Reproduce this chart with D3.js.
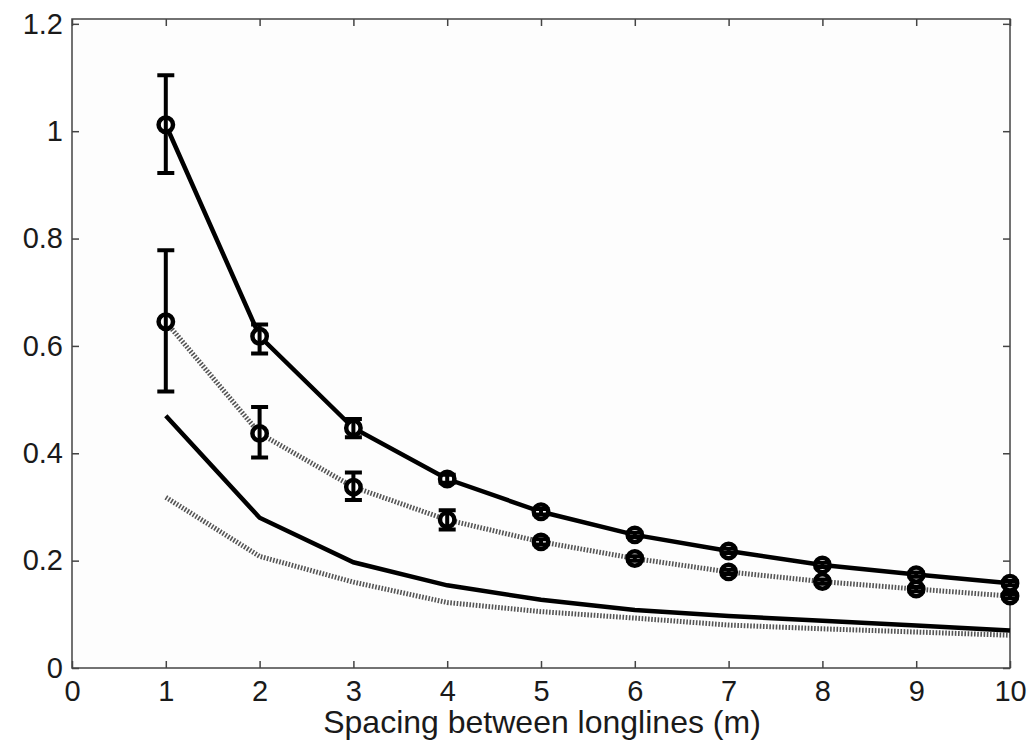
<!DOCTYPE html>
<html>
<head>
<meta charset="utf-8">
<script src="https://cdn.jsdelivr.net/npm/d3@7"></script>
<style>
  body { margin: 0; background: #fff; }
  text { font-family: Arial, "Liberation Sans", sans-serif; fill: #1a1a1a; }
</style>
</head>
<body>
<div id="chart"></div>
<script>
// spacing between longlines (m)
const spacing = [1, 2, 3, 4, 5, 6, 7, 8, 9, 10];

// upper series: solid line, circle markers with error bars
const solidMean = [1.012, 0.618, 0.447, 0.352, 0.291, 0.248, 0.218, 0.192, 0.174, 0.158];
const solidLo   = [0.922, 0.586, 0.430, 0.345, 0.286, 0.244, 0.214, 0.188, 0.170, 0.154];
const solidHi   = [1.104, 0.640, 0.464, 0.360, 0.296, 0.252, 0.222, 0.196, 0.178, 0.162];

// middle series: dotted line, circle markers with error bars
const dotMean = [0.645, 0.437, 0.337, 0.276, 0.235, 0.204, 0.179, 0.161, 0.147, 0.134];
const dotLo   = [0.515, 0.392, 0.313, 0.258, 0.230, 0.200, 0.175, 0.157, 0.143, 0.130];
const dotHi   = [0.778, 0.486, 0.364, 0.294, 0.240, 0.208, 0.183, 0.165, 0.151, 0.138];

// lower curves, no markers
const solidLow = [0.470, 0.280, 0.197, 0.154, 0.127, 0.108, 0.097, 0.088, 0.079, 0.070];
const dotLow   = [0.318, 0.208, 0.160, 0.122, 0.105, 0.093, 0.080, 0.073, 0.067, 0.061];

const xTicks = [0, 1, 2, 3, 4, 5, 6, 7, 8, 9, 10];
const yTicks = [0, 0.2, 0.4, 0.6, 0.8, 1, 1.2];

const W = 1032, H = 752;
const margin = { top: 19, right: 22, bottom: 84, left: 72 };
const width = W - margin.left - margin.right;
const height = H - margin.top - margin.bottom;

const svg = d3.select("#chart").append("svg")
  .attr("width", W).attr("height", H);
const g = svg.append("g").attr("transform", `translate(${margin.left},${margin.top})`);

const x = d3.scaleLinear().domain([0, 10]).range([0, width]);
const y = d3.scaleLinear().domain([0, 1.209]).range([height, 0]);

g.append("rect")
  .attr("width", width).attr("height", height)
  .attr("fill", "#fdfdfd");

// axes: inward ticks, box frame
const axisStyle = sel => {
  sel.select(".domain").remove();
  sel.selectAll(".tick line").attr("stroke", "#444").attr("stroke-width", 1.5);
  sel.selectAll(".tick text").attr("font-size", 29).attr("fill", "#1a1a1a")
    .attr("font-family", "Arial, 'Liberation Sans', sans-serif");
};
g.append("g").attr("transform", `translate(0,${height})`)
  .call(d3.axisBottom(x).tickValues(xTicks).tickFormat(d3.format("d")).tickSizeInner(-7).tickPadding(12))
  .call(axisStyle);
g.append("g")
  .call(d3.axisTop(x).tickValues(xTicks).tickFormat("").tickSizeInner(-7))
  .call(axisStyle);
g.append("g")
  .call(d3.axisLeft(y).tickValues(yTicks).tickFormat(d => d3.format("")(+d.toFixed(1))).tickSizeInner(-7).tickPadding(9))
  .call(axisStyle);
g.append("g").attr("transform", `translate(${width},0)`)
  .call(d3.axisRight(y).tickValues(yTicks).tickFormat("").tickSizeInner(-7))
  .call(axisStyle);
g.append("rect")
  .attr("width", width).attr("height", height)
  .attr("fill", "none").attr("stroke", "#444").attr("stroke-width", 1.5);

const line = d3.line().x(d => x(d[0])).y(d => y(d[1]));
const pairs = vals => spacing.map((s, i) => [s, vals[i]]);

const drawSolid = vals => g.append("path").datum(pairs(vals))
  .attr("d", line).attr("fill", "none").attr("stroke", "#000").attr("stroke-width", 4.5);
const drawDotted = vals => g.append("path").datum(pairs(vals))
  .attr("d", line).attr("fill", "none").attr("stroke", "#555")
  .attr("stroke-width", 5).attr("stroke-dasharray", "1.6,1.6");

drawDotted(dotLow);
drawSolid(solidLow);
drawDotted(dotMean);
drawSolid(solidMean);

const drawMarkers = (mean, lo, hi) => {
  const grp = g.append("g");
  const data = spacing.map((s, i) => ({ s, m: mean[i], lo: lo[i], hi: hi[i] }));
  grp.selectAll("circle").data(data).join("circle")
    .attr("cx", d => x(d.s)).attr("cy", d => y(d.m)).attr("r", 7.2)
    .attr("fill", "#fff").attr("stroke", "#000").attr("stroke-width", 4.5);
  const cap = 8.5;
  grp.selectAll(".eb").data(data).join("path")
    .attr("class", "eb")
    .attr("d", d => `M${x(d.s)},${y(d.lo)}V${y(d.hi)}` +
      `M${x(d.s) - cap},${y(d.lo)}H${x(d.s) + cap}` +
      `M${x(d.s) - cap},${y(d.hi)}H${x(d.s) + cap}`)
    .attr("fill", "none").attr("stroke", "#000").attr("stroke-width", 4);
};
drawMarkers(dotMean, dotLo, dotHi);
drawMarkers(solidMean, solidLo, solidHi);

svg.append("text")
  .attr("x", margin.left + width / 2 + 1).attr("y", H - 19)
  .attr("text-anchor", "middle").attr("font-size", 32)
  .text("Spacing between longlines (m)");
</script>
</body>
</html>
